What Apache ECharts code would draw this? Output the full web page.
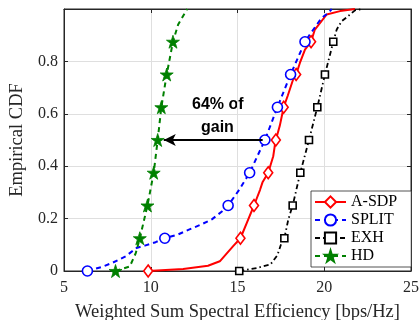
<!DOCTYPE html>
<html>
<head>
<meta charset="utf-8">
<script src="https://cdn.jsdelivr.net/npm/echarts@6/dist/echarts.min.js"></script>
<style>
  html, body { margin: 0; padding: 0; background: #fff; }
  #chart { width: 420px; height: 320px; }
</style>
</head>
<body>
<div id="chart"></div>
<script>
// Empirical CDF levels where each curve carries a marker
const markLevels = [0, 0.125, 0.25, 0.375, 0.5, 0.625, 0.75, 0.875];

// Spectral efficiency (bps/Hz) at the marker levels
const asdpMarksX  = [9.85, 15.17, 15.95, 16.77, 17.21, 17.66, 18.38, 19.24];
const splitMarksX = [6.35, 10.81, 14.46, 15.70, 16.58, 17.30, 18.06, 18.89];
const exhMarksX   = [15.10, 17.70, 18.18, 18.62, 19.12, 19.60, 20.04, 20.52];
const hdMarksX    = [7.97, 9.37, 9.81, 10.17, 10.40, 10.61, 10.92, 11.28];

// Remaining CDF samples between the markers, [efficiency, probability]
const asdpCurve = [
  [11.87, 0.008], [13.3, 0.02], [13.98, 0.037], [14.75, 0.095],
  [15.62, 0.197], [16.3, 0.31], [16.45, 0.34], [17.06, 0.438], [17.16, 0.483],
  [17.44, 0.555], [17.9, 0.67], [18.2, 0.73], [18.6, 0.795], [18.89, 0.845],
  [19.45, 0.92], [20.14, 0.979], [20.91, 0.992], [21.77, 1.0]
];
const splitCurve = [
  [7.2, 0.016], [7.78, 0.031], [8.55, 0.056], [9.18, 0.088], [9.66, 0.097],
  [10.28, 0.11], [11.56, 0.139], [12.2, 0.158], [12.89, 0.177], [13.52, 0.197],
  [14.1, 0.227], [15.1, 0.31], [19.3, 0.915], [19.85, 0.966], [20.24, 0.985],
  [20.43, 1.0]
];
const exhCurve = [
  [16.1, 0.011], [16.9, 0.025], [17.3, 0.06], [17.5, 0.1], [17.93, 0.197],
  [20.72, 0.922], [21.0, 0.953], [21.49, 0.979], [21.77, 0.995], [22.25, 1.0]
];
const hdCurve = [
  [8.79, 0.017], [9.13, 0.067], [11.58, 0.941], [12.1, 1.0]
];

// Gain annotation arrow, drawn in data coordinates
const gainArrowFrom = [16.45, 0.5];
const gainArrowTo = [10.75, 0.5];
const gainText = ['64% of', 'gain'];

const xTicks = { min: 5, max: 25, interval: 5 };
const yTicks = { min: 0, max: 1, interval: 0.2 };

const STAR = 'path://M50 0 L61.23 34.55 L97.55 34.55 L68.17 55.9 L79.39 90.45 L50 69.1 L20.61 90.45 L31.83 55.9 L2.45 34.55 L38.77 34.55 Z';
const SERIF = '"Liberation Serif", "Times New Roman", serif';
const AX = '#262626';

// Merge marker points with the in-between samples; only marker points get a symbol
function buildData(marksX, curve) {
  const pts = marksX.map((x, i) => ({ value: [x, markLevels[i]], mark: true }))
    .concat(curve.map(p => ({ value: p, mark: false })));
  pts.sort((a, b) => a.value[0] - b.value[0]);
  return pts.map(p => p.mark ? { value: p.value } : { value: p.value, symbol: 'none' });
}

function lineSeries(name, marksX, curve, color, lineType, width, symbol, size, fill) {
  return {
    name: name,
    type: 'line',
    data: buildData(marksX, curve),
    symbol: symbol,
    symbolSize: size,
    showAllSymbol: true,
    lineStyle: { color: color, width: width, type: lineType },
    itemStyle: { color: fill, borderColor: color, borderWidth: 1.6 },
    emphasis: { disabled: true },
    animation: false,
    z: 3
  };
}

const series = [
  lineSeries('A-SDP', asdpMarksX, asdpCurve, '#ff0000', 'solid', 2, 'diamond', [9, 12], '#ffffff'),
  lineSeries('SPLIT', splitMarksX, splitCurve, '#0000ff', [5, 4], 2, 'circle', 10, '#ffffff'),
  lineSeries('EXH', exhMarksX, exhCurve, '#000000', [5, 3, 1.5, 3], 1.8, 'rect', 7, '#ffffff'),
  lineSeries('HD', hdMarksX, hdCurve, '#008000', [5, 4], 2, STAR, 13, '#008000')
];
series[3].itemStyle.borderWidth = 0.8;
series[3].markLine = {
  silent: true,
  animation: false,
  symbol: ['none', 'arrow'],
  symbolSize: [9, 12],
  label: { show: false },
  lineStyle: { color: '#000000', width: 2, type: 'solid' },
  data: [[{ coord: gainArrowFrom }, { coord: gainArrowTo }]]
};

const chart = echarts.init(document.getElementById('chart'), null, { renderer: 'canvas' });

// Mirror axes on top and right close the box and carry inward ticks
const mirrorLabel = { show: true, color: 'rgba(0,0,0,0)', fontSize: 8 };

chart.setOption({
  backgroundColor: '#ffffff',
  animation: false,
  grid: {
    left: 64, top: 9, width: 347, height: 262,
    outerBoundsMode: 'none',
    show: true, borderColor: AX, borderWidth: 1
  },
  xAxis: [
    {
      type: 'value', ...xTicks,
      name: 'Weighted Sum Spectral Efficiency [bps/Hz]',
      nameLocation: 'middle', nameGap: 31.5,
      nameTextStyle: { fontFamily: SERIF, fontSize: 18.5, color: AX },
      axisLine: { show: true, onZero: false, lineStyle: { color: AX, width: 1 } },
      axisTick: { show: true, inside: true, length: 4, lineStyle: { color: AX } },
      axisLabel: { fontFamily: SERIF, fontSize: 16, color: AX, margin: 9 },
      splitLine: { show: true, lineStyle: { color: '#dfdfdf', width: 1 } }
    },
    {
      type: 'value', ...xTicks, position: 'top',
      axisLine: { show: true, onZero: false, lineStyle: { color: AX, width: 1 } },
      axisTick: { show: true, inside: true, length: 4, lineStyle: { color: AX } },
      axisLabel: mirrorLabel, splitLine: { show: false }
    }
  ],
  yAxis: [
    {
      type: 'value', ...yTicks,
      name: 'Empirical CDF',
      nameLocation: 'middle', nameGap: 27, nameRotate: 90,
      nameTextStyle: { fontFamily: SERIF, fontSize: 18.5, color: AX },
      axisLine: { show: true, onZero: false, lineStyle: { color: AX, width: 1 } },
      axisTick: { show: true, inside: true, length: 4, lineStyle: { color: AX } },
      axisLabel: {
        fontFamily: SERIF, fontSize: 16, color: AX, margin: 6,
        formatter: v => (v >= 1 ? '' : String(Math.round(v * 10) / 10))
      },
      splitLine: { show: true, lineStyle: { color: '#dfdfdf', width: 1 } }
    },
    {
      type: 'value', ...yTicks, position: 'right',
      axisLine: { show: true, onZero: false, lineStyle: { color: AX, width: 1 } },
      axisTick: { show: true, inside: true, length: 4, lineStyle: { color: AX } },
      axisLabel: mirrorLabel, splitLine: { show: false }
    }
  ],
  legend: {
    orient: 'vertical',
    left: 311, top: 191,
    itemWidth: 31, itemHeight: 14, itemGap: 2,
    padding: [3, 14, 3, 3],
    backgroundColor: '#ffffff',
    borderColor: AX, borderWidth: 0.8,
    textStyle: { fontFamily: SERIF, fontSize: 16, color: '#000000' },
    data: ['A-SDP', 'SPLIT', 'EXH', 'HD']
  },
  graphic: [
    {
      type: 'text', left: 192, top: 97,
      style: { text: gainText[0], font: 'bold 16px "Liberation Sans", Arial, sans-serif', fill: '#000000' }
    },
    {
      type: 'text', left: 201, top: 120,
      style: { text: gainText[1], font: 'bold 16px "Liberation Sans", Arial, sans-serif', fill: '#000000' }
    }
  ],
  series: series
});
</script>
</body>
</html>
